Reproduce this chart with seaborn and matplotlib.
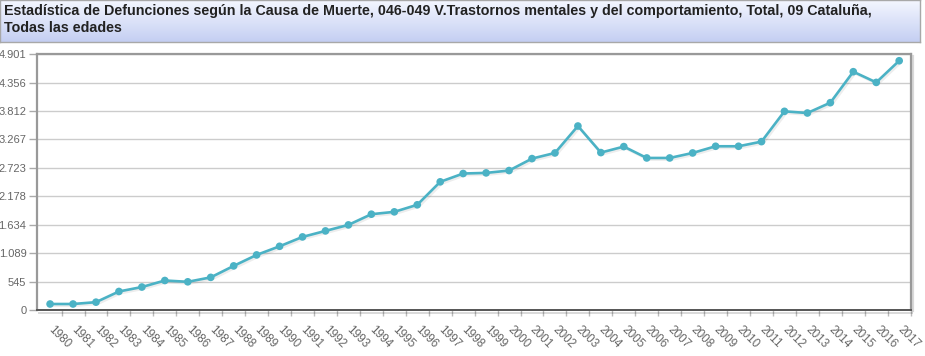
import numpy as np
import pandas as pd
import seaborn as sns
import matplotlib.pyplot as plt
import matplotlib.patheffects as pe

years = [str(y) for y in range(1980, 2018)]
deaths = [115, 115, 150, 355, 440, 565, 540, 625, 845, 1055,
          1220, 1400, 1515, 1630, 1835, 1880, 2015, 2455, 2614, 2626,
          2671, 2900, 3008, 3524, 3015, 3130, 2912, 2912, 3008, 3136,
          3136, 3225, 3805, 3773, 3971, 4564, 4359, 4774]
y_ticks = [0, 545, 1089, 1634, 2178, 2723, 3267, 3812, 4356, 4901]
y_labels = ["0", "545", "1.089", "1.634", "2.178", "2.723", "3.267", "3.812", "4.356", "4.901"]

title = ("Estadística de Defunciones según la Causa de Muerte, 046-049 V.Trastornos mentales y del comportamiento, Total, 09 Cataluña,\n"
         "Todas las edades")

df = pd.DataFrame({"pos": np.arange(len(years)), "year": years, "value": deaths})

sns.set_style("white")
plt.rcParams["font.family"] = ["Liberation Sans", "DejaVu Sans"]

fig = plt.figure(figsize=(9.25, 3.56), dpi=100)

# title box with a soft blue gradient
tax = fig.add_axes([0.0, 0.882, 0.995, 0.118])
grad = np.linspace(0, 1, 64).reshape(-1, 1)
top = np.array([0.96, 0.97, 1.0])
bot = np.array([0.77, 0.81, 0.95])
img = top + (bot - top) * grad[:, :, None]
tax.imshow(img, aspect="auto", extent=[0, 1, 0, 1], origin="upper")
tax.set_xlim(0, 1)
tax.set_ylim(0, 1)
tax.set_xticks([])
tax.set_yticks([])
for s in tax.spines.values():
    s.set_color("#a8a8a8")
    s.set_linewidth(1)
fig.text(4 / 925, 1 - 4 / 356, title, ha="left", va="top", fontsize=10.3,
         fontweight="bold", color="#222222", linespacing=1.3)

ax = fig.add_axes([0.0405, 0.1292, 0.944, 0.7188])
shadow = [pe.SimpleLineShadow(offset=(1.2, -1.2), shadow_color="black", alpha=0.07), pe.Normal()]
sns.lineplot(data=df, x="pos", y="value", ax=ax, color="#4bb2c5", linewidth=1.9,
             marker="o", markersize=5.5, markeredgewidth=0, path_effects=shadow)

ax.set_xlim(-0.55, 37.5)
ax.set_ylim(0, 4901)
ax.set_yticks(y_ticks)
ax.set_yticklabels(y_labels)
ax.yaxis.grid(True, color="#cccccc", linewidth=1)
ax.set_axisbelow(True)
ax.set_xlabel("")
ax.set_ylabel("")

ax.set_xticks(np.arange(len(years)))
ax.set_xticklabels(years, rotation=-45, ha="left", va="center", rotation_mode="anchor")
ax.set_xticks(np.arange(len(years)) + 0.5, minor=True)
ax.tick_params(axis="x", which="major", length=0, pad=13, labelsize=8.5, labelcolor="#666666")
ax.tick_params(axis="x", which="minor", length=4, color="#bbbbbb", width=1, bottom=True)
ax.tick_params(axis="y", length=6, color="#aaaaaa", width=1, left=True, labelsize=8,
               labelcolor="#666666", pad=2)

for name, spine in ax.spines.items():
    spine.set_visible(True)
    spine.set_color("#999999")
    spine.set_linewidth(1.6)
ax.spines["bottom"].set_color("#555555")
ax.spines["bottom"].set_linewidth(1.4)
ax.spines["right"].set_path_effects([pe.SimpleLineShadow(offset=(2, -1), alpha=0.15), pe.Normal()])
ax.spines["bottom"].set_path_effects([pe.SimpleLineShadow(offset=(1, -2), alpha=0.15), pe.Normal()])

fig.savefig("out.png", dpi=100)
